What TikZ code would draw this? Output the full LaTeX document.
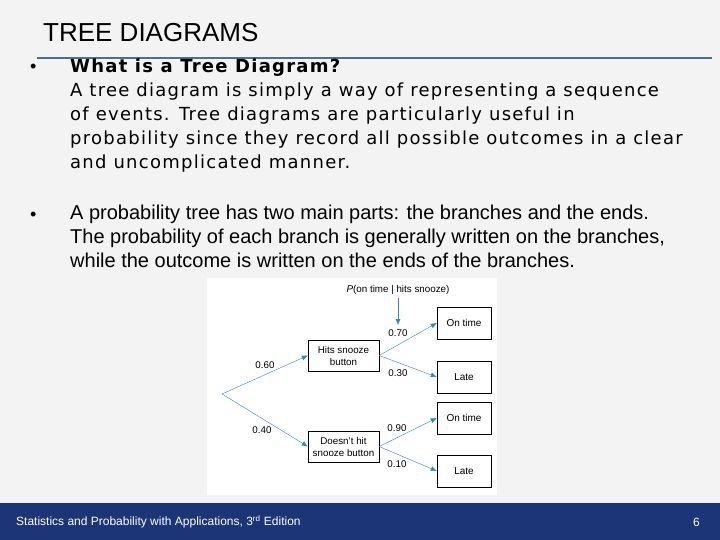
\documentclass[tikz,border=0pt]{standalone}
\usepackage{fontspec}
\setmainfont{Liberation Sans}
\newfontfamily\dvs[LetterSpace=7]{DejaVu Sans}
\usetikzlibrary{arrows.meta}
\definecolor{bg}{HTML}{F3F3F3}
\definecolor{foot}{HTML}{1B3577}
\definecolor{rulec}{HTML}{4F6D8F}
\definecolor{arr}{HTML}{2E8BB5}
\tikzset{
  leaf/.style={draw, thin, fill=white, minimum width=54pt, minimum height=32pt, inner sep=0pt, font=\fontsize{10}{11}\selectfont, align=center},
  mid/.style={draw, thin, fill=white, minimum width=71pt, minimum height=31pt, inner sep=0pt, font=\fontsize{9.8}{12}\selectfont, align=center},
  br/.style={draw=arr, -{Latex[length=6pt,width=5pt]}},
  prob/.style={font=\fontsize{9.8}{10}\selectfont},
  body/.style={anchor=north west, align=left, inner sep=0pt}
}
\begin{document}
\begin{tikzpicture}[x=1pt,y=-1pt]
\useasboundingbox (0,0) rectangle (720,540);
\fill[bg] (0,0) rectangle (720,540);
\fill[foot] (0,503) rectangle (720,540);
\node[anchor=west, inner sep=0pt, font=\fontsize{26}{26}\selectfont] (title) at (43,33) {TREE DIAGRAMS};
\draw[rulec, line width=1.5pt] (37,58) -- (712,58);
\node[anchor=west, inner sep=0pt, font=\fontsize{18}{18}\selectfont] (b1) at (30,68) {•};
\node[body, font=\dvs\fontsize{18}{24}\selectfont] (p1) at (70,59) {\textbf{What is a Tree Diagram?}\\A tree diagram is simply a way of representing a sequence\\of events. Tree diagrams are particularly useful in\\probability since they record all possible outcomes in a clear\\and uncomplicated manner.};
\node[anchor=west, inner sep=0pt, font=\fontsize{18}{18}\selectfont] (b2) at (30,216) {•};
\node[body, font=\fontsize{20}{24}\selectfont] (p2) at (70,205) {A probability tree has two main parts: the branches and the ends.\\The probability of each branch is generally written on the branches,\\while the outcome is written on the ends of the branches.};
\fill[white] (207,278) rectangle (497,495);
\coordinate (root) at (222,394);
\node[mid] (h) at (343.5,355.5) {Hits snooze\\button};
\node[mid] (d) at (343.5,446.5) {Doesn't hit\\snooze button};
\node[leaf] (o1) at (464,323) {On time};
\node[leaf] (l1) at (464,377) {Late};
\node[leaf] (o2) at (464,418) {On time};
\node[leaf] (l2) at (464,471) {Late};
\draw[br] (root) -- (h.west);
\draw[br] (root) -- (d.west);
\draw[br] (h.east) -- (o1.west);
\draw[br] (h.east) -- (l1.west);
\draw[br] (d.east) -- (o2.west);
\draw[br] (d.east) -- (l2.west);
\node[prob] (q1) at (265,365) {0.60};
\node[prob] (q2) at (262,430) {0.40};
\node[prob] (q3) at (398,333) {0.70};
\node[prob] (q4) at (398,373) {0.30};
\node[prob] (q5) at (397,428) {0.90};
\node[prob] (q6) at (397,464) {0.10};
\node[prob] (pl) at (398,290) {\textit{P}(on time | hits snooze)};
\draw[br] (pl.south) -- (398,325);
\node[anchor=west, inner sep=0pt, text=white, font=\fontsize{12}{12}\selectfont] (ft) at (16,522) {Statistics and Probability with Applications, 3\textsuperscript{rd} Edition};
\node[anchor=east, inner sep=0pt, text=white, font=\fontsize{12}{12}\selectfont] (pg) at (700,522) {6};
\end{tikzpicture}
\end{document}
